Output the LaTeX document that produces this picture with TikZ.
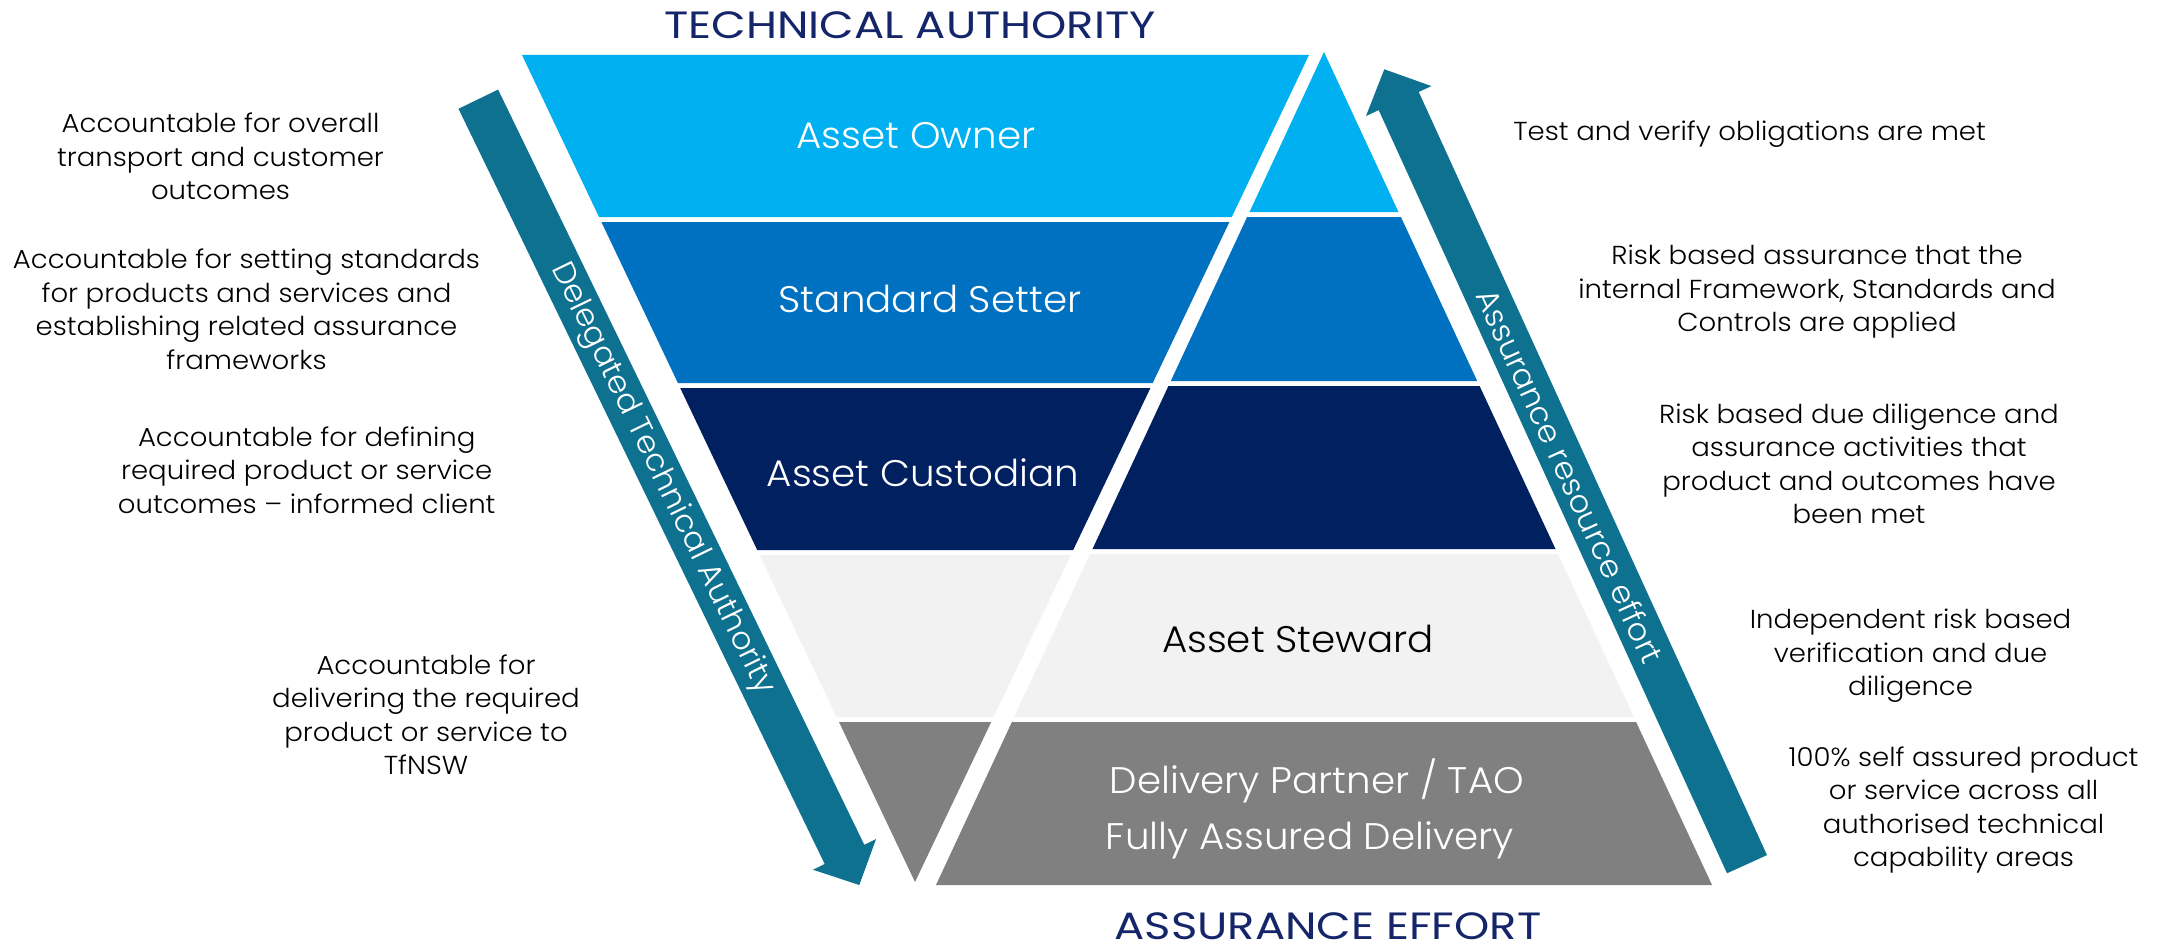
\documentclass[tikz,border=0pt]{standalone}
\usepackage{fontspec}
\setmainfont{Poppins}
\newfontfamily\bodyfont{Poppins Light}[FakeStretch=1.06]
\newfontfamily\bandfont{Poppins Light}[FakeStretch=1.05]
\newfontfamily\headfont{Poppins}[FakeStretch=1.18]
\newfontfamily\arrfont{Poppins Light}[FakeStretch=1.03]
\definecolor{cOwner}{HTML}{00B0F0}
\definecolor{cSetter}{HTML}{0070C0}
\definecolor{cCust}{HTML}{002060}
\definecolor{cStew}{HTML}{F2F2F2}
\definecolor{cDel}{HTML}{808080}
\definecolor{cArrow}{HTML}{0E7190}
\definecolor{cHead}{HTML}{14256A}
\begin{document}
\begin{tikzpicture}[x=1pt,y=-1pt,
  body/.style={align=center,inner sep=0pt,text=black,font=\bodyfont\fontsize{26}{33.5}\selectfont},
  band/.style={inner sep=0pt,font=\bandfont\fontsize{37}{42}\selectfont},
  head/.style={inner sep=0pt,text=cHead,font=\headfont\fontsize{38}{42}\selectfont},
  arrlabel/.style={inner sep=0pt,text=white,font=\arrfont\fontsize{31}{36}\selectfont}]
\useasboundingbox (0,0) rectangle (2163,947);
\fill[white] (0,0) rectangle (2163,947);
% left inverted trapezoid
\fill[cOwner] (522,55) -- (1309,55) -- (1231.8,217) -- (599,217) -- cycle;
\fill[cSetter] (601.4,222) -- (1229.4,222) -- (1152.7,383) -- (677.9,383) -- cycle;
\fill[cCust] (680.2,388) -- (1150.4,388) -- (1073.2,550) -- (757.2,550) -- cycle;
\fill[cStew] (759.6,555) -- (1070.8,555) -- (993.6,717) -- (836.6,717) -- cycle;
\fill[cDel] (839,722) -- (991.2,722) -- (915,882) -- cycle;
% right triangle
\fill[cOwner] (1324,52) -- (1398.5,212) -- (1249.5,212) -- cycle;
\fill[cSetter] (1247.1,217) -- (1400.9,217) -- (1477.2,381) -- (1170.8,381) -- cycle;
\fill[cCust] (1168.4,386) -- (1479.6,386) -- (1555.5,549) -- (1092.5,549) -- cycle;
\fill[cStew] (1090.2,554) -- (1557.8,554) -- (1633.8,717) -- (1014.2,717) -- cycle;
\fill[cDel] (1011.9,722) -- (1636.1,722) -- (1712,885) -- (936,885) -- cycle;
% arrows
\fill[cArrow] (498.1,89.6) -- (864.3,844.8) -- (876,839.1) -- (859.3,885) -- (813,869.7) -- (824.7,864) -- (458.5,108.8) -- cycle;
\fill[cArrow] (1767,855.1) -- (1418.7,91.9) -- (1431.5,86.1) -- (1384.3,69.3) -- (1366,116) -- (1378.7,110.1) -- (1727,873.3) -- cycle;
% headings
\node[head] (ta) at (910,25) {TECHNICAL AUTHORITY};
\node[head] (ae) at (1328,926) {ASSURANCE EFFORT};
% band labels
\node[band,text=white] (owner) at (916,136) {Asset Owner};
\node[band,text=white] (setter) at (930,299) {Standard Setter};
\node[band,text=white] (cust) at (923,473) {Asset Custodian};
\node[band,text=black] (stew) at (1298,639) {Asset Steward};
\node[band,text=white] (dp) at (1317,781) {Delivery Partner / TAO};
\node[band,text=white] (fad) at (1310,840) {Fully Assured Delivery};
% arrow labels
\node[arrlabel,rotate=-64.1] (dta) at (662,479) {Delegated Technical Authority};
\node[arrlabel,rotate=-65.5] (are) at (1570,476) {Assurance resource effort};
% left descriptions
\node[body] (l1) at (220.5,156.5) {Accountable for overall\\transport and customer\\outcomes};
\node[body] (l2) at (246.5,309.5) {Accountable for setting standards\\for products and services and\\establishing related assurance\\frameworks};
\node[body] (l3) at (306.7,470) {Accountable for defining\\required product or service\\outcomes – informed client};
\node[body] (l4) at (426,714.5) {Accountable for\\delivering the required\\product or service to\\TfNSW};
% right descriptions
\node[body] (r1) at (1749.6,134) {Test and verify obligations are met};
\node[body] (r2) at (1817,292) {Risk based assurance that the\\internal Framework, Standards and\\Controls are applied};
\node[body] (r3) at (1859,464) {Risk based due diligence and\\assurance activities that\\product and outcomes have\\been met};
\node[body] (r4) at (1910.6,656) {Independent risk based\\verification and due\\diligence};
\node[body] (r5) at (1963.5,810) {100\% self assured product\\or service across all\\authorised technical\\capability areas};
\end{tikzpicture}
\end{document}
